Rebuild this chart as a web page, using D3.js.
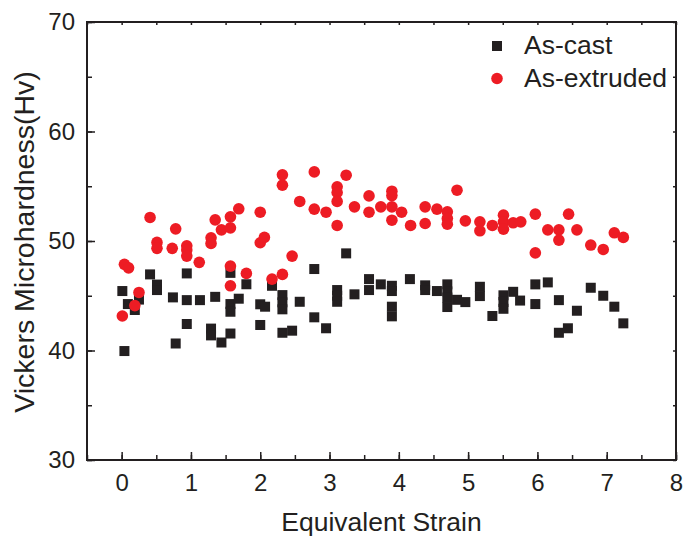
<!DOCTYPE html>
<html>
<head>
<meta charset="utf-8">
<script src="https://cdn.jsdelivr.net/npm/d3@7"></script>
<style>
  body { margin: 0; background: #fff; }
  text { font-family: "Liberation Sans", Arial, sans-serif; fill: #231f20; }
</style>
</head>
<body>
<script>
// data
var castStrain = [0.01,0.04,0.09,0.19,0.25,0.41,0.51,0.51,0.74,0.78,0.94,0.94,0.94,1.13,1.29,1.29,1.35,1.44,1.57,1.57,1.57,1.57,1.69,1.80,
  2.00,2.00,2.07,2.17,2.32,2.32,2.32,2.32,2.46,2.57,2.78,2.78,2.95,3.11,3.11,3.11,3.24,3.36,3.57,3.57,3.74,3.90,3.90,3.90,3.90,
  4.16,4.38,4.38,4.55,4.70,4.70,4.70,4.70,4.84,4.96,5.17,5.17,5.35,5.51,5.51,5.51,5.65,5.75,5.97,5.97,6.15,6.31,6.31,6.44,6.57,6.77,6.95,7.11,7.24];
var castHv = [45.43,39.95,44.24,43.7,44.65,46.95,46.02,45.52,44.85,40.64,47.04,44.6,42.42,44.6,42.0,41.38,44.9,40.73,47.09,44.24,43.54,41.55,44.73,46.05,
  44.22,42.33,44.0,45.91,45.06,44.4,43.76,41.62,41.81,44.45,47.44,43.03,42.03,45.52,45.0,44.45,48.87,45.13,46.52,45.52,46.04,45.91,45.43,44.0,43.12,
  46.52,45.95,45.52,45.43,46.04,45.4,44.84,43.97,44.63,44.42,45.82,44.97,43.15,45.04,44.43,43.81,45.36,44.56,46.04,44.24,46.22,44.6,41.62,42.03,43.63,45.73,45.0,44.0,42.48];

var extStrain = [0.01,0.04,0.10,0.19,0.25,0.41,0.51,0.51,0.73,0.78,0.94,0.94,0.94,1.12,1.29,1.29,1.35,1.44,1.57,1.57,1.57,1.57,1.69,1.80,
  2.00,2.00,2.06,2.17,2.32,2.32,2.32,2.46,2.57,2.78,2.78,2.95,3.11,3.11,3.11,3.11,3.24,3.36,3.57,3.57,3.74,3.90,3.90,3.90,3.90,
  4.04,4.17,4.38,4.38,4.55,4.70,4.70,4.70,4.84,4.96,5.17,5.17,5.35,5.51,5.51,5.51,5.65,5.76,5.97,5.97,6.15,6.31,6.31,6.45,6.57,6.77,6.95,7.11,7.24];
var extHv = [43.15,47.87,47.55,44.1,45.3,52.15,49.87,49.33,49.33,51.11,49.56,49.17,48.62,48.05,50.29,49.78,51.93,51.02,52.21,51.2,47.71,45.91,52.94,47.04,
  52.63,49.84,50.33,46.52,56.04,55.1,46.95,48.62,53.61,56.31,52.91,52.63,54.95,54.43,53.61,51.42,56.01,53.12,54.12,52.63,53.12,54.55,54.15,53.12,51.9,
  52.63,51.42,53.12,51.6,52.91,52.67,52.06,51.54,54.64,51.84,51.75,50.93,51.42,52.36,51.75,51.08,51.66,51.75,52.45,48.92,51.02,51.02,50.08,52.45,51.02,49.63,49.23,50.75,50.33];

var xTicks = [0,1,2,3,4,5,6,7,8];
var yTicks = [30,40,50,60,70];
var seriesNames = ["As-cast", "As-extruded"];

var w = 683, h = 537;
var plotL = 87, plotR = 676, plotT = 22, plotB = 460;
var ink = "#231f20", red = "#ed1c24";

var svg = d3.select("body").append("svg")
  .attr("width", w)
  .attr("height", h);

var x = d3.scaleLinear().domain([-0.5, 8]).range([plotL, plotR]);
var y = d3.scaleLinear().domain([30, 70]).range([plotB, plotT]);

var xMinor = d3.range(-0.5, 8.01, 0.5);
var yMinor = d3.range(30, 70.01, 5);

// frame ticks
svg.append("g").attr("transform", "translate(0," + plotB + ")")
  .call(d3.axisBottom(x).tickValues(xMinor).tickSize(-5).tickFormat(""));
svg.append("g").attr("transform", "translate(0," + plotB + ")")
  .call(d3.axisBottom(x).tickValues(xTicks).tickSize(-8).tickPadding(14).tickFormat(d3.format("d")));
svg.append("g").attr("transform", "translate(" + plotL + ",0)")
  .call(d3.axisLeft(y).tickValues(yMinor).tickSize(-5).tickFormat(""));
svg.append("g").attr("transform", "translate(" + plotL + ",0)")
  .call(d3.axisLeft(y).tickValues(yTicks).tickSize(-8).tickPadding(12).tickFormat(d3.format("d")));
svg.append("g").attr("transform", "translate(0," + plotT + ")")
  .call(d3.axisTop(x).tickValues(xMinor).tickSize(-3).tickFormat(""));
svg.append("g").attr("transform", "translate(" + plotR + ",0)")
  .call(d3.axisRight(y).tickValues(yMinor).tickSize(-3).tickFormat(""));

svg.selectAll(".domain").remove();
svg.selectAll(".tick line").attr("stroke", ink).attr("stroke-width", 1.5);
svg.selectAll(".tick text").attr("font-size", 24).attr("fill", ink)
  .attr("font-family", "'Liberation Sans', Arial, sans-serif");

svg.append("rect")
  .attr("x", plotL).attr("y", plotT)
  .attr("width", plotR - plotL).attr("height", plotB - plotT)
  .attr("fill", "none").attr("stroke", ink).attr("stroke-width", 2);

// points
svg.selectAll("rect.cast")
  .data(d3.range(castStrain.length))
  .enter()
  .append("rect")
  .attr("class", "cast")
  .attr("x", function(i) { return x(castStrain[i]) - 5; })
  .attr("y", function(i) { return y(castHv[i]) - 5; })
  .attr("width", 10)
  .attr("height", 10)
  .attr("fill", ink);

svg.selectAll("circle.ext")
  .data(d3.range(extStrain.length))
  .enter()
  .append("circle")
  .attr("class", "ext")
  .attr("cx", function(i) { return x(extStrain[i]); })
  .attr("cy", function(i) { return y(extHv[i]); })
  .attr("r", 5.8)
  .attr("fill", red);

// legend
svg.append("rect").attr("x", 492).attr("y", 41).attr("width", 10).attr("height", 10).attr("fill", ink);
svg.append("circle").attr("cx", 497).attr("cy", 78.5).attr("r", 5.8).attr("fill", red);
svg.selectAll("text.leg")
  .data(seriesNames)
  .enter()
  .append("text")
  .attr("class", "leg")
  .attr("x", 524)
  .attr("y", function(d, i) { return 54 + i * 33; })
  .attr("font-size", 26.5)
  .text(function(d) { return d; });

// axis titles
svg.append("text")
  .attr("x", (plotL + plotR) / 2)
  .attr("y", 531)
  .attr("text-anchor", "middle")
  .attr("font-size", 26.5)
  .text("Equivalent Strain");

svg.append("text")
  .attr("transform", "translate(34," + ((plotT + plotB) / 2 + 1) + ") rotate(-90)")
  .attr("text-anchor", "middle")
  .attr("font-size", 28.5)
  .text("Vickers Microhardness(Hv)");
</script>
</body>
</html>
